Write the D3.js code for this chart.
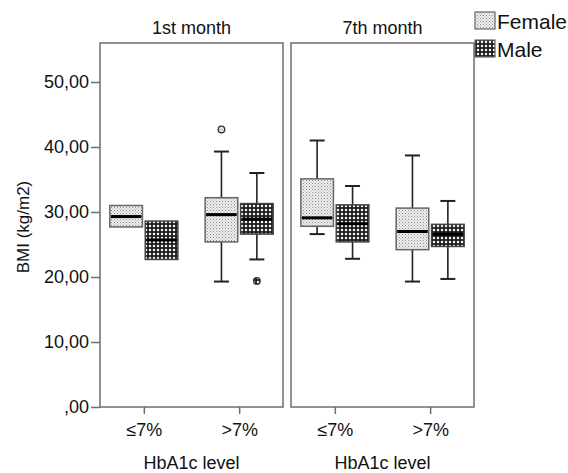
<!DOCTYPE html>
<html><head><meta charset="utf-8">
<script src="https://cdn.jsdelivr.net/npm/d3@7/dist/d3.min.js"></script>
<style>
html,body{margin:0;padding:0;background:#fff;}
svg{display:block;font-family:"Liberation Sans",Arial,sans-serif;}
</style></head>
<body>
<svg id="chart" width="568" height="473"></svg>
<script>
// ---- data ----
const months = ["1st month", "7th month"];
const hba1cLevels = ["\u22647%", ">7%"];
const sexes = ["Female", "Male"];
const yTicks = [0, 10, 20, 30, 40, 50];
// group order: month x level x sex
const groupMonth = ["1st month","1st month","1st month","1st month","7th month","7th month","7th month","7th month"];
const groupLevel = ["\u22647%","\u22647%",">7%",">7%","\u22647%","\u22647%",">7%",">7%"];
const groupSex   = ["Female","Male","Female","Male","Female","Male","Female","Male"];
const whiskerLow  = [27.7, 22.7, 19.3, 22.7, 26.6, 22.8, 19.3, 19.7];
const q1          = [27.7, 22.7, 25.4, 26.6, 27.8, 25.4, 24.2, 24.7];
const median      = [29.3, 25.7, 29.6, 28.9, 29.1, 28.2, 27.0, 26.6];
const q3          = [31.0, 28.6, 32.2, 31.3, 35.1, 31.1, 30.6, 28.1];
const whiskerHigh = [31.0, 28.6, 39.3, 36.0, 41.0, 34.0, 38.7, 31.7];
const outlierMonth = ["1st month", "1st month"];
const outlierLevel = [">7%", ">7%"];
const outlierSex   = ["Female", "Male"];
const outlierValue = [42.7, 19.4];

// ---- layout ----
const svg = d3.select("#chart");
const plotTop = 43, plotBottom = 407;
const panelW = 183;
const panelX = d3.scaleOrdinal().domain(months).range([100, 291]);
const y = d3.scaleLinear().domain([0, 56]).range([plotBottom, plotTop]);
const xLevel = d3.scalePoint().domain(hba1cLevels).range([0, panelW]).padding(0.46);
const xSex = d3.scaleBand().domain(sexes).range([-34, 34]).paddingInner(0.08);
const bw = xSex.bandwidth();

// patterns
const defs = svg.append("defs");
const pf = defs.append("pattern").attr("id","pFemale").attr("patternUnits","userSpaceOnUse")
  .attr("width",3).attr("height",3);
pf.append("rect").attr("width",3).attr("height",3).attr("fill","#f0f0f0");
pf.append("rect").attr("x",0).attr("y",0).attr("width",1).attr("height",1).attr("fill","#888");
pf.append("rect").attr("x",1.5).attr("y",1.5).attr("width",1).attr("height",1).attr("fill","#a0a0a0");
const pm = defs.append("pattern").attr("id","pMale").attr("patternUnits","userSpaceOnUse")
  .attr("width",4).attr("height",4);
pm.append("rect").attr("width",4).attr("height",4).attr("fill","#1e1e1e");
pm.append("circle").attr("cx",2).attr("cy",2).attr("r",1.25).attr("fill","#f4f4f4");
const fillFor = s => s === "Female" ? "url(#pFemale)" : "url(#pMale)";

// panels
months.forEach(m => {
  const g = svg.append("g").attr("transform", `translate(${panelX(m)},0)`);
  g.append("rect").attr("x",0).attr("y",plotTop).attr("width",panelW).attr("height",plotBottom-plotTop)
    .attr("fill","none").attr("stroke","#6e6e6e").attr("stroke-width",1.5);
  g.append("text").attr("x",panelW/2).attr("y",34).attr("text-anchor","middle")
    .attr("font-size",18).attr("fill","#111").text(m);
  // x axis
  const ax = g.append("g").attr("transform",`translate(0,${plotBottom})`)
    .call(d3.axisBottom(xLevel).tickSize(7).tickPadding(9));
  ax.select(".domain").remove();
  ax.selectAll("line").attr("stroke","#6e6e6e").attr("stroke-width",1.5);
  ax.selectAll("text").attr("font-size",18).attr("fill","#111")
    .attr("font-family","'Liberation Sans',Arial,sans-serif");
  g.append("text").attr("x",panelW/2).attr("y",469).attr("text-anchor","middle")
    .attr("font-size",18).attr("fill","#111").text("HbA1c level");
});

// y axis
const ay = svg.append("g").attr("transform","translate(100,0)")
  .call(d3.axisLeft(y).tickValues(yTicks).tickSize(9).tickPadding(2)
    .tickFormat(d => d === 0 ? ",00" : d3.format(".2f")(d).replace(".", ",")));
ay.select(".domain").remove();
ay.selectAll("line").attr("stroke","#6e6e6e").attr("stroke-width",1.5);
ay.selectAll("text").attr("font-size",18).attr("fill","#111")
  .attr("font-family","'Liberation Sans',Arial,sans-serif");
svg.append("text").attr("transform",`translate(29,${(plotTop+plotBottom)/2+2}) rotate(-90)`)
  .attr("text-anchor","middle").attr("font-size",17).attr("fill","#111").text("BMI (kg/m2)");

// boxes
const boxes = d3.range(q1.length).map(i => ({
  m: groupMonth[i], l: groupLevel[i], s: groupSex[i],
  lo: whiskerLow[i], q1: q1[i], med: median[i], q3: q3[i], hi: whiskerHigh[i]
}));
const cx = d => panelX(d.m) + xLevel(d.l) + xSex(d.s) + bw/2;
const capW = 15;
const bg = svg.append("g").selectAll("g").data(boxes).join("g");
// whiskers
bg.append("line").attr("x1",cx).attr("x2",cx).attr("y1",d=>y(d.hi)).attr("y2",d=>y(d.q3))
  .attr("stroke","#222").attr("stroke-width",1.6);
bg.append("line").attr("x1",cx).attr("x2",cx).attr("y1",d=>y(d.q1)).attr("y2",d=>y(d.lo))
  .attr("stroke","#222").attr("stroke-width",1.6);
bg.filter(d=>d.hi>d.q3).append("line").attr("x1",d=>cx(d)-capW/2).attr("x2",d=>cx(d)+capW/2)
  .attr("y1",d=>y(d.hi)).attr("y2",d=>y(d.hi)).attr("stroke","#222").attr("stroke-width",2);
bg.filter(d=>d.lo<d.q1).append("line").attr("x1",d=>cx(d)-capW/2).attr("x2",d=>cx(d)+capW/2)
  .attr("y1",d=>y(d.lo)).attr("y2",d=>y(d.lo)).attr("stroke","#222").attr("stroke-width",2);
bg.append("rect").attr("x",d=>cx(d)-bw/2).attr("width",bw)
  .attr("y",d=>y(d.q3)).attr("height",d=>y(d.q1)-y(d.q3))
  .attr("fill",d=>fillFor(d.s)).attr("stroke",d=>d.s==="Female"?"#666":"#444").attr("stroke-width",1.5);
bg.append("line").attr("x1",d=>cx(d)-bw/2+1).attr("x2",d=>cx(d)+bw/2-1)
  .attr("y1",d=>y(d.med)).attr("y2",d=>y(d.med)).attr("stroke","#000").attr("stroke-width",3);

// outliers
const outs = outlierValue.map((v,i)=>({m:outlierMonth[i], l:outlierLevel[i], s:outlierSex[i], v}));
svg.append("g").selectAll("circle").data(outs).join("circle")
  .attr("cx",cx).attr("cy",d=>y(d.v)).attr("r",3.3)
  .attr("fill",d=>fillFor(d.s)).attr("stroke","#333").attr("stroke-width",1.3);

// legend
const lg = svg.append("g");
sexes.forEach((s,i) => {
  lg.append("rect").attr("x",475).attr("y",12 + i*28).attr("width",20).attr("height",17)
    .attr("fill",fillFor(s)).attr("stroke","#666").attr("stroke-width",1.2);
  lg.append("text").attr("x",497).attr("y",29 + i*28).attr("font-size",21).attr("fill","#111").text(s);
});
</script>
</body></html>
